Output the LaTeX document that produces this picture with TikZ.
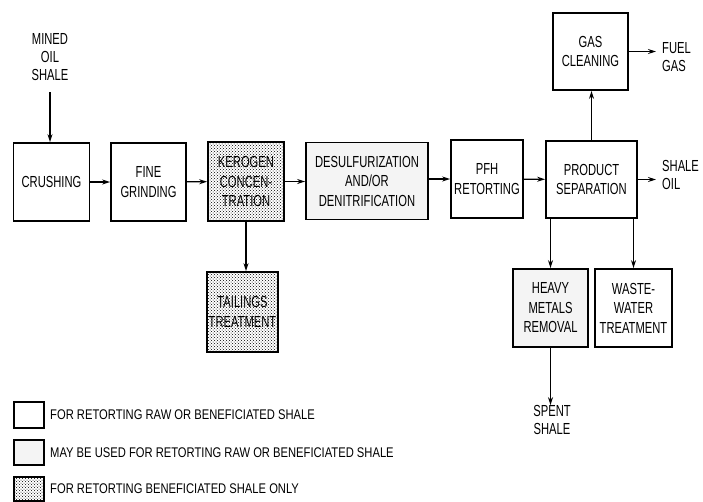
\documentclass[tikz,border=0pt]{standalone}
\usepackage{fontspec}
\setmainfont{Liberation Sans}[FakeStretch=0.7]
\newfontfamily\keyfont{Liberation Sans}[FakeStretch=0.8]
\usetikzlibrary{arrows.meta, patterns}

\tikzset{
  unit/.style={draw, line width=1.8pt, align=center, inner sep=2pt,
    font=\fontsize{16}{19.5}\selectfont},
  light/.style={unit, fill=gray!9},
  dotted fill/.style={unit, pattern=crosshatch dots, pattern color=black},
  flow/.style={line width=1.3pt, -{Stealth[length=8pt, width=5pt]}},
  label/.style={align=center, font=\fontsize{16}{18}\selectfont, inner sep=0pt},
  key/.style={font=\keyfont\fontsize{14}{16}\selectfont, anchor=west, inner sep=0pt}
}

\begin{document}
\begin{tikzpicture}[x=1pt, y=-1pt]
\useasboundingbox (0,0) rectangle (703,501);

\node [unit, minimum width=76pt, minimum height=78pt] (crush) at (51.5,182) {CRUSHING};
\node [unit, minimum width=75pt, minimum height=78pt] (grind) at (148.5,182) {FINE\\GRINDING};
\node [dotted fill, minimum width=76pt, minimum height=79pt] (kerogen) at (246,181.5) {KEROGEN\\CONCEN-\\TRATION};
\node [light, minimum width=122pt, minimum height=77pt] (desulf) at (367,181) {DESULFURIZATION\\AND/OR\\DENITRIFICATION};
\node [unit, minimum width=72pt, minimum height=78pt] (pfh) at (487,179) {PFH\\RETORTING};
\node [unit, minimum width=91pt, minimum height=77pt] (prodsep) at (591.5,179.5) {PRODUCT\\SEPARATION};
\node [unit, minimum width=75pt, minimum height=77pt] (gas) at (590.5,51.5) {GAS\\CLEANING};
\node [dotted fill, minimum width=67pt, minimum height=80pt] (tail) at (242.5,312) {TAILINGS\\TREATMENT};
\node [light, minimum width=75pt, minimum height=78pt] (heavy) at (550.5,308) {HEAVY\\METALS\\REMOVAL};
\node [unit, minimum width=77pt, minimum height=78pt] (waste) at (633.5,308) {WASTE-\\WATER\\TREATMENT};

\node [label] (mined) at (50,57) {MINED\\OIL\\SHALE};
\node [label, anchor=west, align=left] (fuel) at (662,57) {FUEL\\GAS};
\node [label, anchor=west, align=left] (oil) at (662,175) {SHALE\\OIL};
\node [label] (spent) at (552,420) {SPENT\\SHALE};

\draw [flow] (mined.south |- 0,92) -- (mined.south |- crush.north);
\draw [flow] (crush) -- (grind);
\draw [flow] (grind) -- (kerogen);
\draw [flow] (kerogen) -- (kerogen -| desulf.west);
\draw [flow] (desulf.east |- pfh) -- (pfh);
\draw [flow] (pfh) -- (prodsep);
\draw [flow] (prodsep.north) -- (prodsep.north |- gas.south);
\draw [flow, shorten >=6pt] (gas.east) -- (fuel.west |- gas.east);
\draw [flow, shorten >=6pt] (prodsep.east) -- (oil.west |- prodsep.east);
\draw [flow] (kerogen.south) -- (kerogen.south |- tail.north);
\draw [flow] (prodsep.south -| heavy.north) -- (heavy.north);
\draw [flow] (prodsep.south -| waste.north) -- (waste.north);
\draw [flow] (heavy.south) -- (heavy.south |- spent.north);

\node [unit, minimum width=30pt, minimum height=26pt] (keyraw) at (29,415) {};
\node [light, minimum width=30pt, minimum height=25pt] (keyboth) at (29,452.5) {};
\node [dotted fill, minimum width=30pt, minimum height=24pt] (keyben) at (29,489) {};
\node [key] (textraw) at (50,415) {FOR RETORTING RAW OR BENEFICIATED SHALE};
\node [key] (textboth) at (50,452.5) {MAY BE USED FOR RETORTING RAW OR BENEFICIATED SHALE};
\node [key] (textben) at (50,489) {FOR RETORTING BENEFICIATED SHALE ONLY};
\end{tikzpicture}
\end{document}
